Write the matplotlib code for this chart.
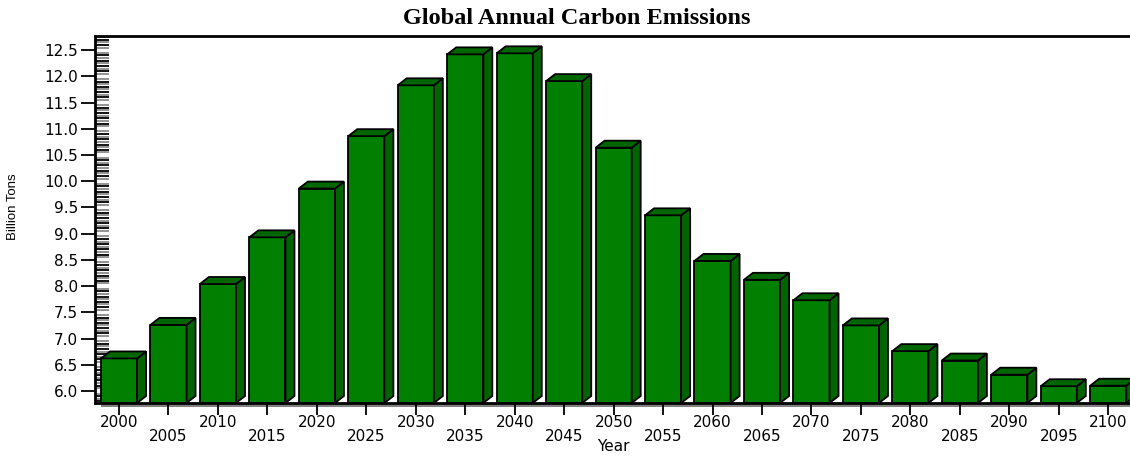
import numpy as np
import matplotlib
matplotlib.use("Agg")
from matplotlib import pyplot as plt
from matplotlib.patches import Polygon
from matplotlib.ticker import MultipleLocator, FixedLocator, NullLocator, FormatStrFormatter
import matplotlib.transforms as mtransforms

# data
years = [2000, 2005, 2010, 2015, 2020, 2025, 2030, 2035, 2040, 2045, 2050,
         2055, 2060, 2065, 2070, 2075, 2080, 2085, 2090, 2095, 2100]
emissions = [6.62, 7.26, 8.04, 8.93, 9.86, 10.86, 11.83, 12.42, 12.44, 11.91, 10.64,
             9.35, 8.48, 8.12, 7.73, 7.25, 6.76, 6.58, 6.31, 6.09, 6.10]

y_min, y_max = 5.77, 12.77
front_col = '#007f00'
side_col = '#006400'
top_col = '#006600'

plt.rcParams['font.family'] = ['DejaVu Sans']

fig = plt.figure(figsize=(11.3, 4.58), dpi=100)
ax = fig.add_axes([95 / 1130, 1 - 403 / 458, 1 - 95 / 1130 + 0.002, (403 - 36) / 458])

x = np.arange(len(years))
w = 0.73
dx = 0.182     # depth of the fake 3d box, x direction
dy = 0.133     # depth, value direction

ax.bar(x, np.array(emissions) - y_min, bottom=y_min, width=w, color=front_col,
       edgecolor='black', linewidth=1.3, zorder=3)
for xi, v in zip(x, emissions):
    x1 = xi + w / 2
    x0 = xi - w / 2
    side = Polygon([(x1, y_min), (x1 + dx, y_min + dy), (x1 + dx, v + dy), (x1, v)],
                   closed=True, facecolor=side_col, edgecolor='black', linewidth=1.3, zorder=3)
    top = Polygon([(x0, v), (x0 + dx, v + dy), (x1 + dx, v + dy), (x1, v)],
                  closed=True, facecolor=top_col, edgecolor='black', linewidth=1.3, zorder=3)
    ax.add_patch(side)
    ax.add_patch(top)

ax.set_xlim(-0.486, len(years) - 1 + 0.486)
ax.set_ylim(y_min, y_max)

# floor shadow under the x axis
trans = mtransforms.blended_transform_factory(ax.transData, ax.transAxes)
ax.add_patch(plt.Rectangle((-0.36, -0.011), len(years) + 1, 0.011, transform=trans,
                           facecolor='#808080', edgecolor='none', clip_on=False, zorder=1))

for s in ['left', 'bottom', 'top']:
    ax.spines[s].set_linewidth(2)
    ax.spines[s].set_zorder(5)
ax.spines['right'].set_visible(False)

# y ticks
ax.yaxis.set_major_locator(MultipleLocator(0.5))
ax.yaxis.set_major_formatter(FormatStrFormatter('%.1f'))
ax.yaxis.set_minor_locator(MultipleLocator(0.1))
ax.tick_params(axis='y', which='major', direction='out', length=10, width=1.3,
               labelsize=11, pad=2)
ax.tick_params(axis='y', which='minor', direction='in', length=10, width=1.3, color='black')
odd = [round(v, 2) for v in np.arange(5.8, 12.8, 0.1) + 0.05]
ax2 = ax.secondary_yaxis('left')
ax2.yaxis.set_major_locator(NullLocator())
ax2.yaxis.set_minor_locator(FixedLocator(odd))
ax2.tick_params(axis='y', which='minor', direction='in', length=10, width=1.3, color='#8a8a8a')
ax2.spines['left'].set_visible(False)

# x ticks, labels staggered on two rows
ax.set_xticks(x)
ax.set_xticklabels([str(y) if i % 2 == 0 else '\n' + str(y) for i, y in enumerate(years)],
                   linespacing=0.95)
ax.tick_params(axis='x', which='major', direction='inout', length=17, width=1.3,
               labelsize=11, pad=0)
ax.xaxis.set_tick_params(zorder=6)

ax.set_xlabel('Year', fontsize=11, labelpad=-4)
ax.set_ylabel('Billion Tons', fontsize=9.5,
              family=['Liberation Sans', 'DejaVu Sans'])
ax.yaxis.set_label_coords(-0.073, 0.534)

fig.text(577 / 1130, 1 - 19 / 458, 'Global Annual Carbon Emissions', ha='center', va='center',
         fontsize=17.5, fontweight='bold', family=['Liberation Serif', 'DejaVu Serif'])

fig.savefig('out.png', dpi=100)
